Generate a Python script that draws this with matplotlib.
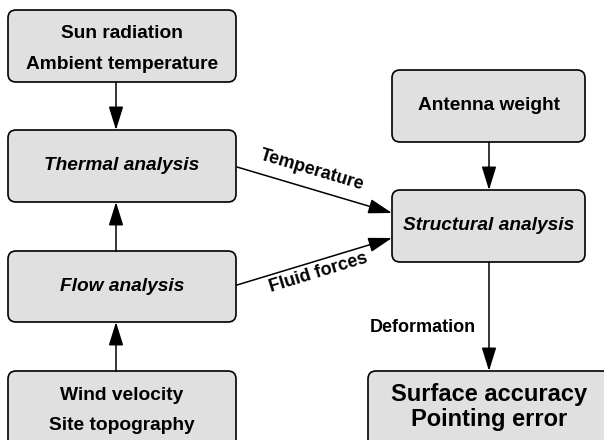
from matplotlib import pyplot as plt
from matplotlib.patches import FancyBboxPatch

# Node texts
inputs_left = ["Sun radiation\nAmbient temperature", "Wind velocity\nSite topography"]
analyses = ["Thermal analysis", "Flow analysis", "Structural analysis"]
antenna_load = "Antenna weight"
result = "Surface accuracy\nPointing error"
edge_labels = ["Temperature", "Fluid forces", "Deformation"]

FONT = "Liberation Sans"
FILL = "#e0e0e0"

fig = plt.figure(figsize=(6.04, 4.40), dpi=100)
ax = fig.add_axes([0, 0, 1, 1])
ax.set_xlim(0, 604)
ax.set_ylim(440, 0)
ax.axis("off")


def box(x0, y0, x1, y1, text, italic=False, size=13.8, linespacing=2.15, dy=0):
    p = FancyBboxPatch((x0 + 8, y0 + 8), x1 - x0 - 16, y1 - y0 - 16,
                       boxstyle="round,pad=8", fc=FILL, ec="black", lw=1.2,
                       clip_on=False)
    ax.add_patch(p)
    ax.text((x0 + x1) / 2, (y0 + y1) / 2 + dy, text, ha="center", va="center",
            fontsize=size, fontweight="bold", family=FONT,
            style="italic" if italic else "normal", linespacing=linespacing)


def arrow(x0, y0, x1, y1):
    ax.annotate("", xy=(x1, y1), xytext=(x0, y0),
                arrowprops=dict(arrowstyle="-|>,head_length=1.45,head_width=0.45",
                                color="black", lw=1.1, shrinkA=0, shrinkB=0))


# left column
box(8, 10, 236, 82, inputs_left[0], dy=3)
box(8, 130, 236, 202, analyses[0], italic=True)
box(8, 251, 236, 322, analyses[1], italic=True)
box(8, 371, 236, 449, inputs_left[1], linespacing=2.0)

# right column
box(392, 70, 585, 142, antenna_load)
box(392, 190, 585, 262, analyses[2], italic=True)
box(368, 371, 610, 449, result, size=17, linespacing=1.15, dy=-3)

arrow(116, 82, 116, 130)
arrow(116, 251, 116, 202)
arrow(116, 371, 116, 322)
arrow(489, 142, 489, 190)
arrow(489, 262, 489, 371)
arrow(237, 167, 392, 213)
arrow(237, 285, 392, 238)

ax.text(312, 170, edge_labels[0], rotation=-16.5, ha="center", va="center",
        fontsize=13, fontweight="bold", family=FONT, rotation_mode="anchor")
ax.text(318, 273, edge_labels[1], rotation=17, ha="center", va="center",
        fontsize=13, fontweight="bold", family=FONT, rotation_mode="anchor")
ax.text(476, 328, edge_labels[2], ha="right", va="center",
        fontsize=13, fontweight="bold", family=FONT)

plt.savefig("out.png")
